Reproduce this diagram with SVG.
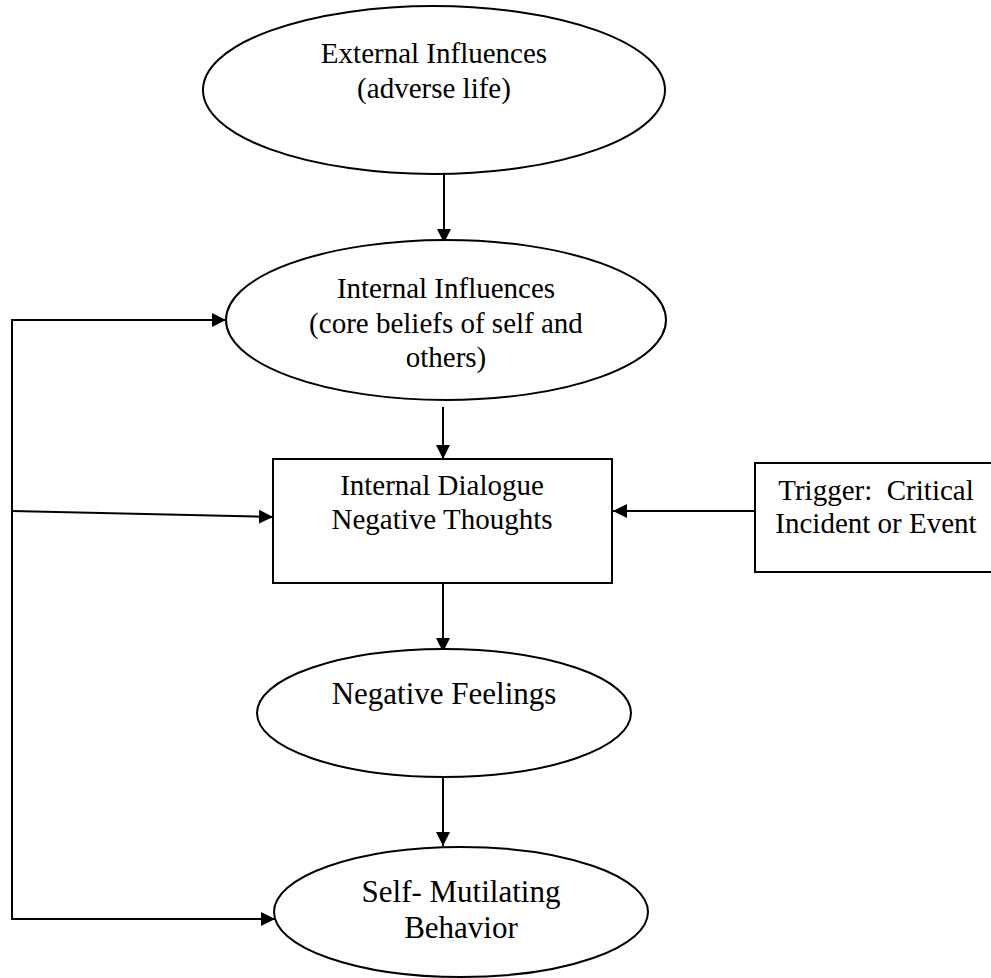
<svg xmlns="http://www.w3.org/2000/svg" width="991" height="978" viewBox="0 0 991 978">
<defs>
<marker id="ah" viewBox="0 0 14 14" refX="14" refY="7" markerWidth="14" markerHeight="14" markerUnits="userSpaceOnUse" orient="auto">
<path d="M0,0 L14,7 L0,14 Z" fill="#000"/>
</marker>
<style>
.shape{fill:#fff;stroke:#000;stroke-width:2}
.t{font-family:"Liberation Serif","Times New Roman",serif;font-size:29px;fill:#000;text-anchor:middle}
.big{font-size:31px}
.c{fill:none;stroke:#000;stroke-width:2}
</style>
</defs>
<rect width="991" height="978" fill="#fff"/>
<g id="connectors">
<line class="c" x1="444" y1="175" x2="444" y2="243" marker-end="url(#ah)"/>
<line class="c" x1="443" y1="407" x2="443" y2="459" marker-end="url(#ah)"/>
<line class="c" x1="443" y1="583" x2="443" y2="652" marker-end="url(#ah)"/>
<line class="c" x1="443" y1="774" x2="443" y2="846" marker-end="url(#ah)"/>
<line class="c" x1="755" y1="511" x2="613" y2="511" marker-end="url(#ah)"/>
<polyline class="c" points="12,320 12,919"/>
<line class="c" x1="11" y1="320" x2="226" y2="320" marker-end="url(#ah)"/>
<line class="c" x1="12" y1="511" x2="273" y2="517" marker-end="url(#ah)"/>
<line class="c" x1="11" y1="919" x2="275" y2="919" marker-end="url(#ah)"/>
</g>
<g id="external">
<ellipse class="shape" cx="434" cy="90" rx="231" ry="84"/>
<text class="t" x="434" y="63">External Influences</text>
<text class="t" x="434" y="98">(adverse life)</text>
</g>
<g id="internal">
<ellipse class="shape" cx="446" cy="320" rx="220" ry="80"/>
<text class="t" x="446" y="298">Internal Influences</text>
<text class="t" x="446" y="333">(core beliefs of self and</text>
<text class="t" x="446" y="367">others)</text>
</g>
<g id="dialogue">
<rect class="shape" x="273" y="459" width="339" height="124"/>
<text class="t" x="442" y="495">Internal Dialogue</text>
<text class="t" x="442" y="529">Negative Thoughts</text>
</g>
<g id="trigger">
<rect class="shape" x="755" y="463" width="260" height="109"/>
<text class="t" x="876" y="500" xml:space="preserve">Trigger:  Critical</text>
<text class="t" x="876" y="533">Incident or Event</text>
</g>
<g id="feelings">
<ellipse class="shape" cx="444" cy="713" rx="187" ry="64"/>
<text class="t big" x="444" y="704">Negative Feelings</text>
</g>
<g id="behavior">
<ellipse class="shape" cx="461" cy="912" rx="187" ry="65"/>
<text class="t big" x="461" y="902">Self- Mutilating</text>
<text class="t big" x="461" y="938">Behavior</text>
</g>
</svg>
